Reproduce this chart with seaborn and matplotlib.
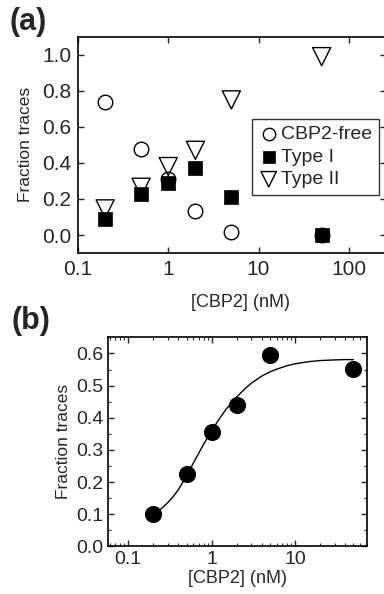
import numpy as np
import pandas as pd
import matplotlib
matplotlib.use("Agg")
import matplotlib.pyplot as plt
import seaborn as sns
from matplotlib.ticker import FixedLocator, LogLocator, MultipleLocator, NullLocator, FuncFormatter

# panel (a) data
conc_a = [0.2, 0.5, 1, 2, 5, 50]
cbp2_free = [0.74, 0.48, 0.31, 0.135, 0.015, 0.0]
type_1 = [0.09, 0.23, 0.29, 0.37, 0.21, 0.0]
type_2 = [0.145, 0.265, 0.38, 0.47, 0.75, 0.99]

# panel (b) data
conc_b = [0.2, 0.5, 1, 2, 5, 50]
frac_b = [0.10, 0.226, 0.355, 0.441, 0.595, 0.553]

# fit curve, points
fit_x = [0.2, 0.25, 0.3, 0.35, 0.4, 0.5, 0.6, 0.7, 0.8, 1, 1.2, 1.5, 2, 2.5,
         3, 4, 5, 6, 8, 10, 15, 20, 30, 40, 50]
fit_y = [0.100, 0.118, 0.137, 0.157, 0.177, 0.220, 0.258, 0.290, 0.318, 0.360,
         0.392, 0.428, 0.465, 0.490, 0.508, 0.530, 0.543, 0.551, 0.562, 0.568,
         0.575, 0.578, 0.580, 0.581, 0.581]

sns.set_style("ticks")
plt.rcParams["font.family"] = ["Liberation Sans", "DejaVu Sans"]

fig = plt.figure(figsize=(3.84, 5.94), dpi=100)
ax1 = fig.add_axes([0.203, 0.574, 0.803, 0.364])
ax2 = fig.add_axes([0.281, 0.080, 0.675, 0.352])

df_a = pd.DataFrame({"x": conc_a * 3,
                     "y": cbp2_free + type_1 + type_2,
                     "kind": ["CBP2-free"] * 6 + ["Type I"] * 6 + ["Type II"] * 6})

sns.scatterplot(data=df_a[df_a.kind == "CBP2-free"], x="x", y="y", ax=ax1, marker="o",
                s=110, facecolor="white", edgecolor="black", linewidth=1.0,
                label="CBP2-free", zorder=3)
sns.scatterplot(data=df_a[df_a.kind == "Type I"], x="x", y="y", ax=ax1, marker="s",
                s=110, color="black", edgecolor="black", linewidth=0.5,
                label="Type I", zorder=4)
sns.scatterplot(data=df_a[df_a.kind == "Type II"], x="x", y="y", ax=ax1, marker="v",
                s=170, facecolor="none", edgecolor="black", linewidth=1.0,
                label="Type II", zorder=5)

ax1.set_xscale("log")
ax1.set_xlim(0.1, 260)
ax1.set_ylim(-0.1, 1.1)
ax1.xaxis.set_major_locator(FixedLocator([0.1, 1, 10, 100]))
ax1.xaxis.set_minor_locator(NullLocator())
ax1.xaxis.set_major_formatter(FuncFormatter(lambda v, p: "%g" % v))
ax1.yaxis.set_major_locator(MultipleLocator(0.2))
ax1.yaxis.set_major_formatter(FuncFormatter(lambda v, p: "%.1f" % v))
ax1.tick_params(direction="in", top=True, right=True, length=4, width=1,
                labelsize=15, pad=5)
ax1.set_xlabel("[CBP2] (nM)", fontsize=13)
ax1.xaxis.set_label_coords(0.526, -0.19)
ax1.set_ylabel("Fraction traces", fontsize=12.5, labelpad=6)
for sp in ax1.spines.values():
    sp.set_linewidth(1.2)
    sp.set_color("black")
leg = ax1.legend(loc="upper left", bbox_to_anchor=(0.565, 0.62), fontsize=14,
                 frameon=True, fancybox=False, handletextpad=0.15, borderpad=0.35,
                 labelspacing=0.25, handlelength=1.0, borderaxespad=0, markerscale=0.85)
leg.get_frame().set_edgecolor("black")
leg.get_frame().set_linewidth(1.0)

sns.lineplot(x=fit_x, y=fit_y, ax=ax2, color="black", linewidth=1.0)
sns.scatterplot(x=conc_b, y=frac_b, ax=ax2, marker="o", s=130, color="black",
                edgecolor="black", zorder=3)
ax2.set_xscale("log")
ax2.set_xlim(0.057, 73)
ax2.set_ylim(0, 0.65)
ax2.xaxis.set_major_locator(FixedLocator([0.1, 1, 10]))
ax2.xaxis.set_minor_locator(LogLocator(base=10, subs=np.arange(2, 10)))
ax2.xaxis.set_major_formatter(FuncFormatter(lambda v, p: "%g" % v))
ax2.yaxis.set_major_locator(MultipleLocator(0.1))
ax2.yaxis.set_minor_locator(MultipleLocator(0.05))
ax2.yaxis.set_major_formatter(FuncFormatter(lambda v, p: "%.1f" % v))
ax2.tick_params(which="major", direction="in", top=True, right=True, length=4,
                width=1, labelsize=14, pad=3)
ax2.tick_params(which="minor", direction="in", top=True, right=True, length=2, width=0.8)
ax2.set_xlabel("[CBP2] (nM)", fontsize=13, labelpad=2)
ax2.set_ylabel("Fraction traces", fontsize=12.5, labelpad=4)
for sp in ax2.spines.values():
    sp.set_linewidth(1.2)
    sp.set_color("black")

fig.text(0.024, 0.988, "(a)", fontsize=22, fontweight="bold", va="top", ha="left")
fig.text(0.030, 0.485, "(b)", fontsize=22, fontweight="bold", va="top", ha="left")

fig.savefig("out.png", dpi=100)
